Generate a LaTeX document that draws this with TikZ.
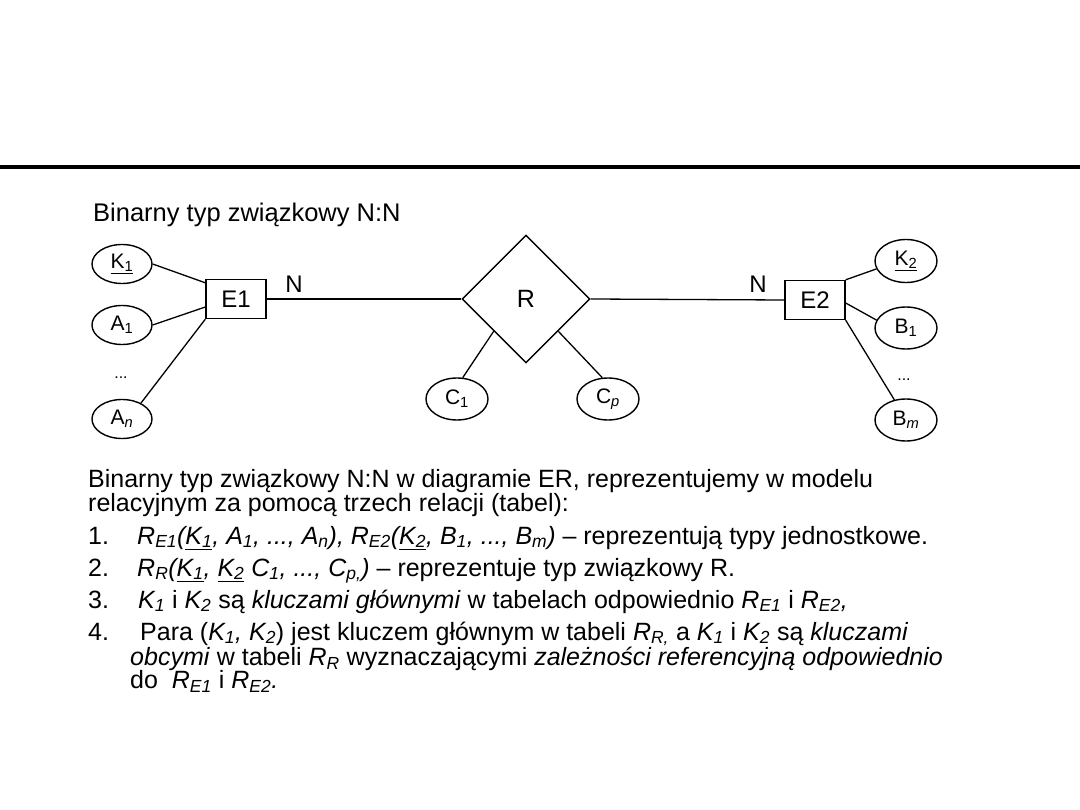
\documentclass[tikz,border=0pt]{standalone}
\usepackage{fontspec}
\setmainfont{Liberation Sans}
\usetikzlibrary{shapes.geometric}
\newcommand\sbs[1]{\textsubscript{#1}}
\begin{document}
\begin{tikzpicture}[x=1pt,y=-1pt,
  attr/.style={ellipse, draw, line width=1.4pt, minimum width=60pt, minimum height=39pt, inner sep=0pt, font=\fontsize{21}{21}\selectfont},
  ent/.style={rectangle, draw, line width=1.4pt, minimum width=60pt, minimum height=39pt, inner sep=0pt, font=\fontsize{24}{24}\selectfont},
  rel/.style={diamond, draw, line width=1.4pt, minimum width=128pt, minimum height=128pt, inner sep=0pt, font=\fontsize{25}{25}\selectfont},
  conn/.style={line width=1.3pt},
  lbl/.style={inner sep=0pt, font=\fontsize{24}{24}\selectfont},
  dots/.style={inner sep=0pt, font=\fontsize{16}{16}\selectfont},
  body/.style={anchor=base west, inner sep=0pt, font=\fontsize{25}{23}\selectfont}]
\useasboundingbox (0,0) rectangle (1080,810);
\fill[white] (0,0) rectangle (1080,810);
\draw[line width=4pt] (0,167) -- (1080,167);
% title
\node[body, font=\fontsize{25.5}{25}\selectfont] (title) at (93,222) {Binarny typ związkowy N:N};
% left entity
\node[attr] (K1) at (122,264) {\underline{K\sbs{1}}};
\node[attr] (A1) at (122,325) {A\sbs{1}};
\node[dots] (ldots) at (121,378) {...};
\node[attr] (An) at (122,419) {A\sbs{\textit{n}}};
\node[ent] (E1) at (236,299) {E1};
\node[lbl] (N1) at (294,284) {N};
% relationship
\node[rel] (R) at (526,299) {R};
\node[attr, minimum width=62pt, minimum height=42pt] (C1) at (457,399) {C\sbs{1}};
\node[attr, minimum width=62pt, minimum height=42pt] (Cp) at (608,399) {C\sbs{\textit{p}}};
% right entity
\node[ent] (E2) at (815,300) {E2};
\node[lbl] (N2) at (758,284) {N};
\node[attr, minimum width=62pt, minimum height=43pt] (K2) at (906,261) {\underline{K\sbs{2}}};
\node[attr, minimum width=62pt, minimum height=42pt] (B1) at (906,328) {B\sbs{1}};
\node[dots] (rdots) at (904,380) {...};
\node[attr, minimum width=62pt, minimum height=42pt] (Bm) at (906,420) {B\sbs{\textit{m}}};
% connectors
\draw[conn] (K1.east) -- ([yshift=-4pt]E1.north west);
\draw[conn] (A1.east) -- ([yshift=-8pt]E1.west);
\draw[conn] (An.40) -- (E1.south west);
\draw[conn] (E1.east) -- (R.west);
\draw[conn] (R.east) -- (E2.west);
\draw[conn] (R.south west) -- (C1.75);
\draw[conn] (R.south east) -- (Cp.105);
\draw[conn] (E2.north east) -- (K2.195);
\draw[conn] ([yshift=-3pt]E2.east) -- (B1.165);
\draw[conn] (E2.south east) -- (Bm.120);
% body text
\node[body] (intro) at (88,487) {\vtop{\baselineskip=23pt
  \hbox{Binarny typ związkowy N:N w diagramie ER, reprezentujemy w modelu}
  \hbox{relacyjnym za pomocą trzech relacji (tabel):}}};
\node[body] (n1) at (88,544) {1.};
\node[body] (t1) at (137,544) {\textit{R\sbs{E1}(\underline{K\sbs{1}}, A\sbs{1}, ..., A\sbs{n}), R\sbs{E2}(\underline{K\sbs{2}}, B\sbs{1}, ..., B\sbs{m})} – reprezentują typy jednostkowe.};
\node[body] (n2) at (88,576) {2.};
\node[body] (t2) at (137,576) {\textit{R\sbs{R}(\underline{K\sbs{1}}, \underline{K\sbs{2}} C\sbs{1}, ..., C\sbs{p,})} – reprezentuje typ związkowy R.};
\node[body] (n3) at (88,608) {3.};
\node[body] (t3) at (138,608) {\textit{K\sbs{1}} i \textit{K\sbs{2}} są \textit{kluczami głównymi} w tabelach odpowiednio \textit{R\sbs{E1}} i \textit{R\sbs{E2},}};
\node[body] (n4) at (88,640) {4.};
\node[body] (t4) at (130,640) {\vtop{\baselineskip=23.5pt
  \hbox{\hspace*{10pt}Para (\textit{K\sbs{1}, K\sbs{2}}) jest kluczem głównym w tabeli \textit{R\sbs{R,}} a \textit{K\sbs{1}} i \textit{K\sbs{2}} są \textit{kluczami}}
  \hbox{\textit{obcymi} w tabeli \textit{R\sbs{R}} wyznaczającymi \textit{zależności referencyjną odpowiednio}}
  \hbox{do \ \textit{R\sbs{E1}} i \textit{R\sbs{E2}.}}}};
\end{tikzpicture}
\end{document}
